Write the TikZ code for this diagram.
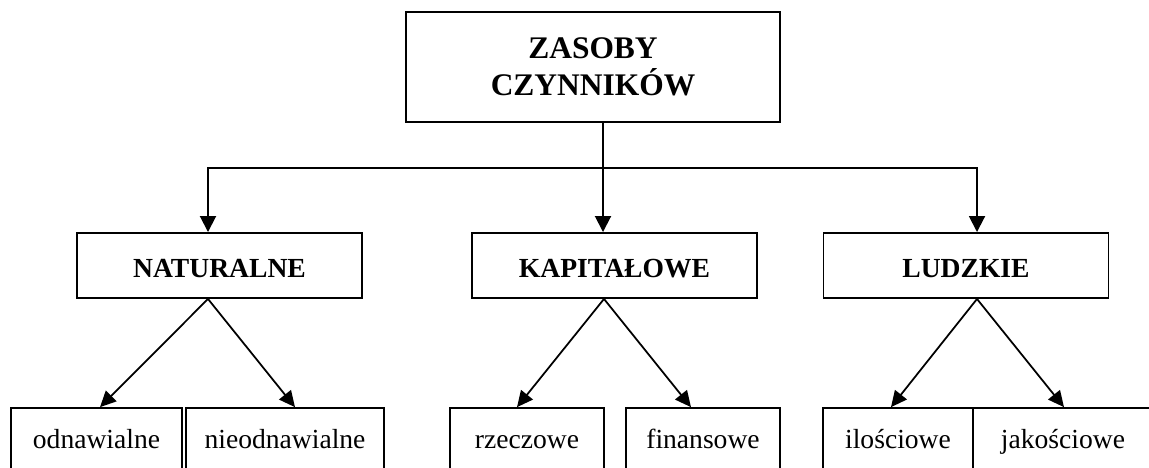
\documentclass[tikz,border=0pt]{standalone}
\usepackage{fontspec}
\setmainfont{Liberation Serif}
\usetikzlibrary{arrows.meta, positioning, calc}
\definecolor{ink}{HTML}{000000}

\begin{document}
\begin{tikzpicture}[
    every node/.style={font=\fontsize{15.7}{19}\selectfont, text=ink},
    headbox/.style={draw=ink, line width=1.5pt, minimum width=7.48cm, minimum height=2.20cm,
        inner sep=0pt, align=center, font=\fontsize{17.9}{21}\selectfont\bfseries},
    groupbox/.style={draw=ink, line width=1.1pt, minimum width=5.70cm, minimum height=1.30cm,
        inner sep=0pt, text height=13.4pt, text depth=0pt, font=\fontsize{15.7}{19}\selectfont\bfseries},
    kindbox/.style={draw=ink, line width=0.95pt, minimum height=1.34cm,
        inner sep=0pt, text height=11.8pt, text depth=3.9pt},
    link/.style={draw=ink, line width=1.1pt, -{Triangle[length=0.32cm, width=0.32cm]}},
    fork/.style={draw=ink, line width=1.0pt, -{Triangle[length=0.32cm, width=0.30cm]}},
]
\useasboundingbox (0,0) rectangle (22.98,9.36);

% top
\node[headbox] (res) at (11.86, 8.02) {ZASOBY\\CZYNNIKÓW};

% three groups
\node[groupbox] (nat) at (4.39, 4.05) {NATURALNE};
\node[groupbox] (cap) at (12.29, 4.05) {KAPITAŁOWE};
\node[groupbox] (hum) at (19.32, 4.05) {LUDZKIE};

% kinds, cut by the page bottom
\node[kindbox, minimum width=3.42cm] (ren) at (1.93, 0.53) {odnawialne};
\node[kindbox, minimum width=3.96cm] (nren) at (5.70, 0.53) {nieodnawialne};
\node[kindbox, minimum width=3.08cm] (mat) at (10.54, 0.53) {rzeczowe};
\node[kindbox, minimum width=3.08cm] (fin) at (14.06, 0.53) {finansowe};
\node[kindbox, minimum width=3.00cm] (qty) at (17.96, 0.53) {ilościowe};
\node[kindbox, minimum width=3.60cm] (qual) at (21.26, 0.53) {jakościowe};

% tree from the top box
\coordinate (stem) at ([xshift=0.20cm]res.south);
\coordinate (bus) at ($(stem)+(0,-0.90)$);
\draw[ink, line width=1.1pt] (stem) -- (bus);
\draw[link] (bus) -| ([xshift=-0.23cm]nat.north);
\draw[link] (stem) -- (stem |- cap.north);
\draw[link] (bus) -| ([xshift=0.22cm]hum.north);

% forks below the groups
\draw[fork] ([xshift=-0.23cm]nat.south) -- ([xshift=0.07cm]ren.north);
\draw[fork] ([xshift=-0.23cm]nat.south) -- ([xshift=0.20cm]nren.north);
\draw[fork] ([xshift=-0.21cm]cap.south) -- ([xshift=-0.20cm]mat.north);
\draw[fork] ([xshift=-0.21cm]cap.south) -- ([xshift=-0.24cm]fin.north);
\draw[fork] ([xshift=0.22cm]hum.south) -- ([xshift=-0.14cm]qty.north);
\draw[fork] ([xshift=0.22cm]hum.south) -- ([xshift=0.02cm]qual.north);
\end{tikzpicture}
\end{document}
